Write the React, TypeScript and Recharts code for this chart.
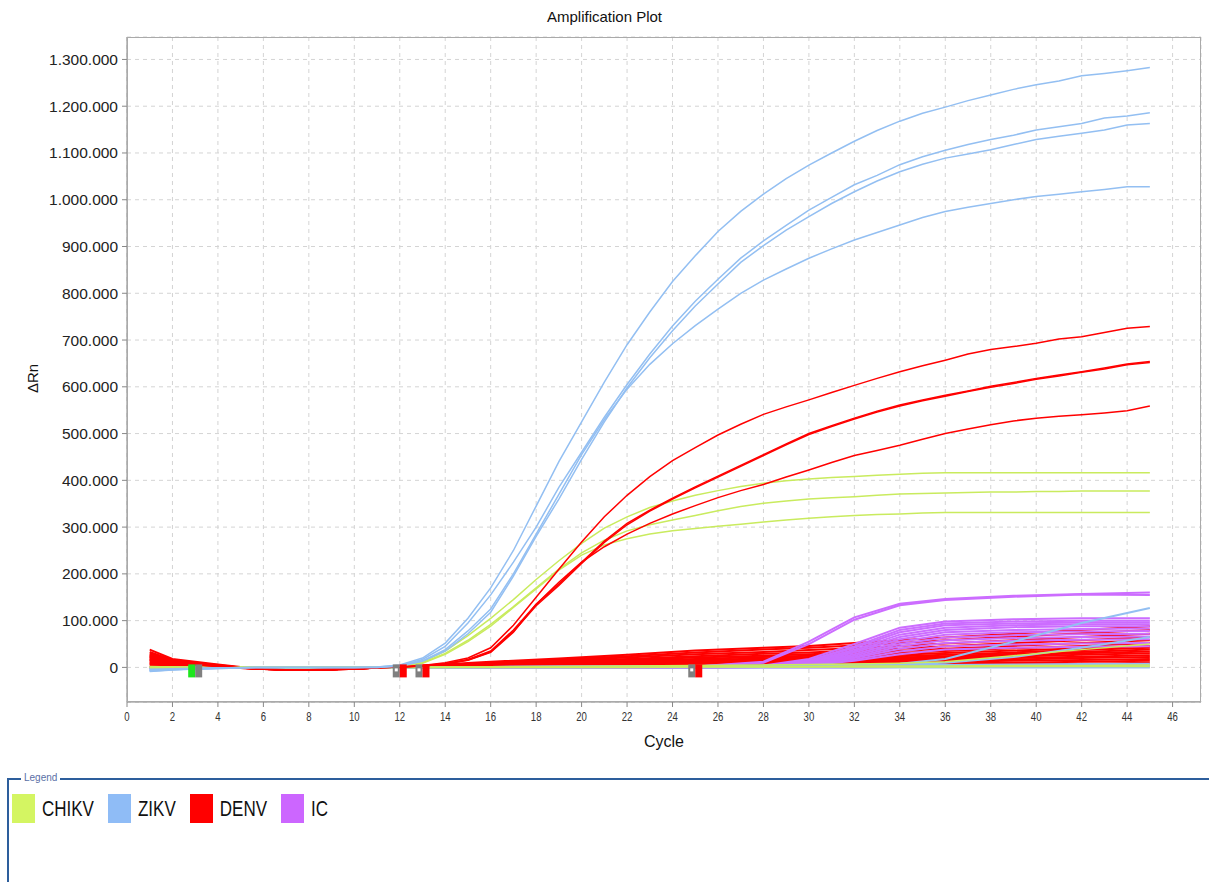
import { LineChart, Line, XAxis, YAxis, CartesianGrid, ReferenceDot } from "recharts";

// ΔRn values are in thousands
const CYCLES = [
  1, 2, 3, 4, 5, 6, 7, 8, 9, 10, 11, 12, 13, 14, 15, 16, 17, 18, 19, 20, 21, 22, 23,
  24, 25, 26, 27, 28, 29, 30, 31, 32, 33, 34, 35, 36, 37, 38, 39, 40, 41, 42, 43, 44, 45,
];
const LOW_CYCLES = [1, 2, 3, 4, 5, 7, 9, 11, 13, 16, 19, 22, 25, 28, 30, 32, 34, 36, 39, 42, 45];

const X_TICKS = [0, 2, 4, 6, 8, 10, 12, 14, 16, 18, 20, 22, 24, 26, 28, 30, 32, 34, 36, 38, 40, 42, 44, 46];
const Y_TICKS = [0, 100, 200, 300, 400, 500, 600, 700, 800, 900, 1000, 1100, 1200, 1300];

const zikvA = [-6, -4, -3, -2, -1, 0, 0, 0, 0, 0, 1, 5, 20, 52, 105, 170, 250, 345, 440, 525, 610, 690, 760, 825, 880, 932, 975, 1012, 1045, 1074, 1100, 1125, 1148, 1168, 1185, 1198, 1212, 1224, 1236, 1246, 1254, 1265, 1270, 1276, 1283];
const zikvB = [-5, -3, -2, -1, -1, 0, 0, 0, 0, 0, 1, 4, 17, 45, 95, 155, 225, 300, 385, 460, 535, 605, 670, 730, 783, 830, 875, 912, 945, 978, 1005, 1032, 1052, 1075, 1092, 1106, 1118, 1129, 1138, 1149, 1156, 1163, 1175, 1179, 1186];
const zikvC = [-8, -5, -3, -2, -1, 0, 0, 0, 0, 0, 0, 3, 13, 35, 72, 118, 195, 280, 360, 445, 525, 598, 662, 720, 773, 820, 866, 902, 935, 964, 992, 1017, 1040, 1060, 1076, 1089, 1098, 1107, 1118, 1129, 1136, 1142, 1149, 1160, 1163];
const zikvD = [-7, -4, -3, -2, -1, 0, 0, 0, 0, 0, 0, 3, 14, 38, 78, 125, 200, 285, 370, 455, 530, 595, 648, 692, 731, 766, 800, 828, 852, 875, 895, 914, 930, 946, 962, 975, 984, 992, 1000, 1007, 1012, 1017, 1022, 1028, 1028];

const chikvA = [2, 1, 0, 0, 0, 0, 0, 0, 0, 0, 1, 3, 12, 35, 68, 105, 145, 188, 228, 265, 298, 322, 342, 356, 368, 378, 387, 394, 399, 403, 406, 408, 411, 413, 415, 416, 416, 416, 416, 416, 416, 416, 416, 416, 416];
const chikvB = [1, 1, 0, 0, 0, 0, 0, 0, 0, 0, 0, 2, 10, 30, 58, 92, 130, 170, 210, 245, 272, 292, 305, 315, 325, 335, 344, 351, 356, 360, 363, 365, 368, 371, 372, 373, 374, 375, 375, 376, 376, 377, 377, 377, 377];
const chikvC = [1, 0, 0, 0, 0, 0, 0, 0, 0, 0, 0, 2, 9, 28, 55, 88, 128, 168, 208, 240, 262, 275, 285, 292, 297, 302, 306, 311, 315, 319, 322, 325, 327, 328, 330, 331, 331, 331, 331, 331, 331, 331, 331, 331, 331];

const denvA = [22, 12, 7, 3, -1, -4, -5, -5, -4, -3, -1, 1, 4, 10, 20, 42, 90, 150, 210, 268, 322, 368, 408, 442, 470, 497, 520, 541, 557, 572, 588, 603, 618, 632, 645, 657, 670, 680, 686, 693, 702, 707, 716, 725, 729];
const denvB = [18, 10, 6, 2, -2, -4, -5, -5, -4, -3, -1, 1, 3, 8, 17, 35, 80, 135, 178, 225, 270, 308, 336, 362, 386, 409, 432, 455, 478, 500, 517, 533, 548, 561, 572, 582, 591, 601, 609, 618, 625, 632, 640, 649, 654];
const denvB2 = [15, 9, 5, 2, -2, -4, -5, -5, -4, -3, -1, 1, 3, 8, 16, 33, 77, 132, 175, 222, 267, 305, 334, 360, 384, 407, 430, 453, 476, 498, 515, 531, 546, 559, 570, 580, 590, 599, 607, 616, 623, 631, 638, 647, 652];
const denvC = [25, 13, 8, 3, -1, -4, -5, -5, -4, -3, -1, 1, 3, 7, 15, 32, 75, 135, 182, 225, 258, 285, 308, 328, 346, 363, 378, 391, 407, 422, 438, 453, 464, 475, 488, 500, 510, 519, 527, 533, 537, 540, 544, 549, 559];

// low / non-amplifying wells, sampled at LOW_CYCLES
const denvLow1 = [38, 18, 12, 6, 1, -5, -5, -1, 4, 12, 19, 27, 36, 42, 46, 52, 58, 64, 72, 80, 88];
const denvLow2 = [33, 16, 10, 5, 0, -5, -5, -1, 3, 10, 17, 24, 32, 38, 42, 47, 52, 58, 66, 73, 80];
const denvLow3 = [30, 15, 9, 4, 0, -5, -4, -1, 3, 9, 15, 21, 28, 33, 37, 41, 46, 51, 58, 65, 72];
const denvLow4 = [28, 14, 8, 4, 0, -5, -4, -1, 3, 8, 13, 18, 24, 29, 32, 36, 40, 45, 52, 58, 65];
const denvLow5 = [26, 13, 8, 3, 0, -5, -4, -1, 2, 7, 11, 16, 21, 25, 28, 32, 35, 40, 46, 52, 58];
const denvLow6 = [24, 12, 7, 3, -1, -5, -4, -1, 2, 6, 10, 14, 18, 22, 25, 28, 31, 35, 41, 46, 52];
const denvLow7 = [22, 11, 7, 3, -1, -5, -4, -1, 2, 5, 9, 12, 16, 19, 22, 25, 27, 31, 36, 41, 46];
const denvLow8 = [20, 10, 6, 2, -1, -5, -4, -1, 2, 5, 8, 11, 14, 17, 19, 22, 24, 27, 32, 37, 42];
const denvLow9 = [18, 9, 6, 2, -1, -5, -4, -1, 1, 4, 7, 10, 13, 15, 17, 19, 21, 24, 29, 33, 38];
const denvLow10 = [16, 9, 5, 2, -1, -5, -4, -1, 1, 4, 6, 9, 11, 13, 15, 17, 19, 21, 26, 30, 34];
const denvLow11 = [14, 8, 5, 2, -1, -4, -4, -1, 1, 3, 5, 8, 10, 12, 13, 15, 17, 19, 23, 27, 30];
const denvLow12 = [12, 7, 4, 1, -1, -4, -4, -1, 1, 3, 5, 7, 9, 10, 12, 13, 15, 17, 20, 23, 26];
const denvLow13 = [10, 6, 4, 1, -1, -4, -3, -1, 1, 2, 4, 6, 7, 9, 10, 11, 13, 14, 17, 20, 22];
const denvLow14 = [9, 5, 3, 1, -1, -4, -3, -1, 1, 2, 3, 5, 6, 7, 8, 9, 10, 12, 14, 16, 18];
const denvLow15 = [7, 4, 3, 1, -1, -3, -3, 0, 0, 1, 2, 3, 4, 5, 6, 7, 8, 9, 10, 12, 14];
const denvLow16 = [5, 3, 2, 1, 0, -3, -2, 0, 0, 1, 2, 2, 3, 4, 4, 5, 5, 6, 7, 8, 10];

const icHigh1 = [1, 0, 0, 0, 0, 0, 0, 0, 0, 1, 1, 1, 2, 12, 55, 107, 136, 146, 153, 157, 160];
const icHigh2 = [0, 0, 0, 0, 0, 0, 0, 0, 0, 0, 1, 1, 2, 10, 50, 102, 133, 144, 151, 156, 155];
const icMid1 = [0, 0, 0, 0, 0, 0, 0, 0, 0, 0, 0, 1, 1, 4, 18, 50, 85, 98, 103, 105, 105];
const icMid2 = [0, 0, 0, 0, 0, 0, 0, 0, 0, 0, 0, 1, 1, 3, 15, 45, 80, 94, 98, 100, 100];
const icMid3 = [-1, 0, 0, 0, 0, 0, 0, 0, 0, 0, 0, 0, 1, 3, 14, 42, 75, 90, 94, 96, 96];
const icMid4 = [0, 0, 0, 0, 0, 0, 0, 0, 0, 0, 0, 0, 0, 2, 12, 38, 70, 85, 90, 92, 92];
const icMid5 = [1, 0, 0, 0, 0, 0, 0, 0, 0, 0, 0, 0, 0, 2, 11, 35, 65, 80, 86, 88, 88];
const icMid6 = [0, 0, 0, 0, 0, 0, 0, 0, 0, 0, 0, 0, 0, 2, 10, 32, 60, 75, 80, 82, 83];
const icMid7 = [0, 0, 0, 0, 0, 0, 0, 0, 0, 0, 0, 0, 0, 2, 9, 28, 55, 70, 75, 77, 78];
const icMid8 = [0, 0, 0, 0, 0, 0, 0, 0, 0, 0, 0, 0, 0, 1, 8, 25, 50, 64, 69, 71, 72];
const icMid9 = [-1, 0, 0, 0, 0, 0, 0, 0, 0, 0, 0, 0, 0, 1, 7, 22, 45, 58, 63, 65, 66];
const icMid10 = [0, 0, 0, 0, 0, 0, 0, 0, 0, 0, 0, 0, 0, 1, 6, 20, 40, 52, 57, 59, 60];
const icMid11 = [0, 0, 0, 0, 0, 0, 0, 0, 0, 0, 0, 0, 0, 1, 5, 17, 34, 45, 49, 51, 52];
const icMid12 = [0, 0, 0, 0, 0, 0, 0, 0, 0, 0, 0, 0, 0, 1, 4, 14, 28, 38, 42, 44, 45];
const icFlat = [0, 0, 0, 0, 0, 0, 0, 0, 0, 0, 0, 0, 0, 0, 0, 0, 1, 1, 1, 1, 2];

const zikvLow1 = [-8, -5, -3, -2, -1, 0, 0, 0, 1, 1, 2, 2, 3, 4, 5, 6, 8, 18, 55, 95, 127];
const zikvLow2 = [-6, -4, -3, -2, -1, 0, 0, 0, 0, 1, 1, 2, 2, 3, 4, 5, 7, 10, 22, 42, 65];
const zikvLow3 = [-5, -3, -2, -1, 0, 0, 0, 0, 1, 1, 2, 2, 3, 3, 4, 4, 5, 5, 6, 7, 8];
const zikvLow4 = [-4, -3, -2, -1, 0, 0, 0, 0, 0, 1, 1, 1, 2, 2, 2, 3, 3, 3, 4, 4, 5];
const zikvLow5 = [-3, -2, -1, -1, 0, 0, 0, 0, 0, 0, 0, 1, 1, 1, 1, 1, 1, 2, 2, 2, 2];
const zikvLow6 = [-2, -1, -1, 0, 0, 0, 0, 0, 0, 0, 0, 0, 0, 0, 0, 0, 0, 0, 0, 0, 0];

const chikvLow1 = [0, 0, 0, 0, 0, 0, 0, 0, 1, 1, 2, 3, 4, 5, 6, 7, 9, 12, 25, 38, 50];
const chikvLow2 = [1, 0, 0, 0, 0, 0, 0, 0, 0, 1, 1, 1, 2, 2, 2, 3, 3, 3, 4, 4, 5];
const chikvLow3 = [0, 0, 0, 0, 0, 0, 0, 0, 0, 0, 0, 0, 1, 1, 1, 1, 1, 1, 2, 2, 2];

const MARKER_CYCLES = [3, 12, 13, 25];

const COLORS: Record<string, string> = {
  CHIKV: "#c9eb5e",
  ZIKV: "#93bff2",
  DENV: "#ff0000",
  IC: "#cc6dff",
};
const SWATCH: Record<string, string> = {
  CHIKV: "#d4f562",
  ZIKV: "#8fbcf6",
  DENV: "#ff0000",
  IC: "#cc66ff",
};
const LEGEND_ITEMS = ["CHIKV", "ZIKV", "DENV", "IC"];

const toPoints = (xs: number[], ys: number[]) => xs.map((c, i) => ({ cycle: c, value: ys[i] }));

type Series = { id: string; target: string; xs: number[]; ys: number[]; w: number };

const series: Series[] = [
  ...[denvLow1, denvLow2, denvLow3, denvLow4, denvLow5, denvLow6, denvLow7, denvLow8, denvLow9, denvLow10, denvLow11, denvLow12, denvLow13, denvLow14, denvLow15, denvLow16].map(
    (ys, i) => ({ id: "dl" + i, target: "DENV", xs: LOW_CYCLES, ys, w: 2 })
  ),
  ...[icMid12, icMid11, icMid10, icMid9, icMid8, icMid7, icMid6, icMid5, icMid4, icMid3, icMid2, icMid1, icHigh2, icHigh1, icFlat].map(
    (ys, i) => ({ id: "ic" + i, target: "IC", xs: LOW_CYCLES, ys, w: 2 })
  ),
  ...[zikvLow1, zikvLow2, zikvLow3, zikvLow4, zikvLow5, zikvLow6].map((ys, i) => ({ id: "zl" + i, target: "ZIKV", xs: LOW_CYCLES, ys, w: 2 })),
  ...[chikvLow1, chikvLow2, chikvLow3].map((ys, i) => ({ id: "cl" + i, target: "CHIKV", xs: LOW_CYCLES, ys, w: 1.5 })),
  ...[chikvA, chikvB, chikvC].map((ys, i) => ({ id: "ca" + i, target: "CHIKV", xs: CYCLES, ys, w: 1.5 })),
  ...[denvA, denvB, denvB2, denvC].map((ys, i) => ({ id: "da" + i, target: "DENV", xs: CYCLES, ys, w: 1.5 })),
  ...[zikvA, zikvB, zikvC, zikvD].map((ys, i) => ({ id: "za" + i, target: "ZIKV", xs: CYCLES, ys, w: 1.5 })),
];

const FONT = '"Liberation Sans", Arial, sans-serif';

const fmtY = (v: number) => String(v * 1000).replace(/\B(?=(\d{3})+(?!\d))/g, ".");

function XTick(props: any) {
  const { x, y, payload } = props;
  return (
    <text transform={`translate(${x},${y}) scale(0.8,1)`} textAnchor="middle" dy="0.71em" fontSize={12} fill="#333" fontFamily={FONT}>
      {payload.value}
    </text>
  );
}

function Marker(props: any, idx: number) {
  const { cx, cy } = props;
  const first = idx === 0;
  const leftColor = first ? "#1ee61e" : "#808080";
  const rightColor = first ? "#808080" : "#ff0000";
  return (
    <g>
      <rect x={cx - 7} y={cy - 3} width={7} height={13} fill={leftColor} />
      <rect x={cx} y={cy - 3} width={7} height={13} fill={rightColor} />
      {!first && <rect x={cx - 5} y={cy + 1} width={3} height={3} fill="#fff" />}
    </g>
  );
}

export default function App() {
  return (
    <div style={{ position: "relative", width: 1209, height: 882, background: "#fff", fontFamily: FONT, overflow: "hidden" }}>
      <style>{"body{margin:0}"}</style>
      <div style={{ position: "absolute", top: 8, left: 0, width: 1209, textAlign: "center", fontSize: 15, color: "#111" }}>
        Amplification Plot
      </div>
      <LineChart width={1209} height={760} margin={{ top: 37, right: 8, left: 0, bottom: 28 }}>
        <CartesianGrid stroke="#d4d4d4" strokeDasharray="4 4" />
        <XAxis
          dataKey="cycle"
          type="number"
          domain={[0, 47.25]}
          ticks={X_TICKS}
          allowDataOverflow
          tick={<XTick />}
          tickSize={5}
          tickMargin={5}
          stroke="#888"
          height={30}
        />
        <YAxis
          type="number"
          domain={[-74, 1348]}
          ticks={Y_TICKS}
          allowDataOverflow
          width={127}
          tickFormatter={fmtY}
          tick={{ fontSize: 15.5, fill: "#222", fontFamily: FONT }}
          tickSize={5}
          tickMargin={4}
          stroke="#888"
        />
        {series.map((s) => (
          <Line
            key={s.id}
            data={toPoints(s.xs, s.ys)}
            dataKey="value"
            type="linear"
            stroke={COLORS[s.target]}
            strokeWidth={s.w}
            dot={false}
            activeDot={false}
            isAnimationActive={false}
          />
        ))}
        {MARKER_CYCLES.map((c, i) => (
          <ReferenceDot key={"m" + i} x={c} y={0} r={0} ifOverflow="visible" shape={(p: any) => Marker(p, i)} />
        ))}
      </LineChart>
      <div style={{ position: "absolute", left: 127, top: 37, width: 1074, height: 665, border: "1px solid #aaa", boxSizing: "border-box", pointerEvents: "none" }} />
      <div style={{ position: "absolute", left: 18, top: 370, transform: "rotate(-90deg)", fontSize: 15, color: "#111" }}>ΔRn</div>
      <div style={{ position: "absolute", left: 127, width: 1074, top: 733, textAlign: "center", fontSize: 16, color: "#111" }}>Cycle</div>
      <div
        style={{
          position: "absolute",
          left: 7,
          top: 778,
          width: 1202,
          height: 110,
          borderTop: "2px solid #2d5e9c",
          borderLeft: "2px solid #2d5e9c",
          boxSizing: "border-box",
        }}
      >
        <div style={{ position: "absolute", top: -8, left: 12, background: "#fff", padding: "0 3px", fontSize: 10, color: "#5a6fa6" }}>Legend</div>
        <div style={{ position: "absolute", top: 14, left: 3, display: "flex", alignItems: "center" }}>
          {LEGEND_ITEMS.map((name) => (
            <div key={name} style={{ display: "flex", alignItems: "center", marginRight: 14 }}>
              <div style={{ width: 23, height: 29, background: SWATCH[name] }} />
              <span style={{ marginLeft: 7, fontSize: 17, color: "#111", display: "inline-block", transform: "scaleY(1.3)" }}>{name}</span>
            </div>
          ))}
        </div>
      </div>
    </div>
  );
}
